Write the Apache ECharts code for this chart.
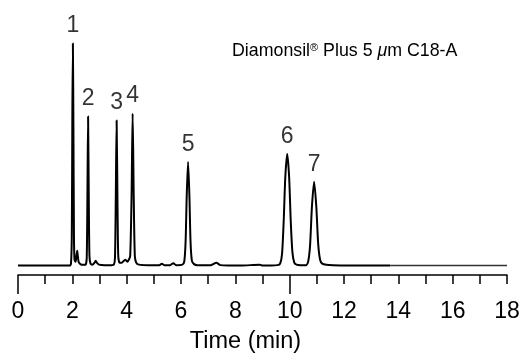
<!DOCTYPE html>
<html>
<head>
<meta charset="utf-8">
<script src="https://cdn.jsdelivr.net/npm/echarts@6/dist/echarts.min.js"></script>
<style>html,body{margin:0;padding:0;background:#fff}#c{width:523px;height:359px}</style>
</head>
<body>
<div id="c"></div>
<script>
// ---- data ----
const traceTime = [0, 1.90, 1.95, 1.98, 2.00, 2.02, 2.04, 2.06, 2.08, 2.12, 2.15, 2.18, 2.20, 2.23, 2.28, 2.35, 2.45,
  2.49, 2.53, 2.555, 2.58, 2.605, 2.63, 2.67, 2.75, 2.82, 2.86, 2.90, 2.98, 3.2, 3.45,
  3.53, 3.57, 3.60, 3.63, 3.66, 3.69, 3.74, 3.82, 3.90, 3.96, 4.02, 4.08,
  4.13, 4.18, 4.22, 4.26, 4.30, 4.35, 4.45, 4.8, 5.2, 5.3, 5.38, 5.6, 5.72, 5.82, 6.05,
  6.12, 6.17, 6.21, 6.26, 6.31, 6.35, 6.40, 6.48, 6.6, 7.1, 7.3, 7.45, 8.2, 8.9, 9.0,
  9.55, 9.65, 9.72, 9.78, 9.84, 9.91, 9.98, 10.04, 10.10, 10.17, 10.25, 10.4,
  10.6, 10.68, 10.75, 10.82, 10.9, 10.98, 11.05, 11.12, 11.2, 11.35, 11.6, 12.5, 13.7];
const traceSignal = [0, 0, 2, 30, 150, 225, 140, 30, 6, 4, 10, 15, 10, 4, 2, 1, 1,
  1, 8, 70, 151, 70, 10, 2, 1, 3, 5, 3, 1, 0.5, 0.5,
  1, 8, 70, 147, 70, 10, 3, 3, 5, 6, 4, 6,
  10, 70, 154, 70, 10, 3, 1, 0.5, 0.5, 2, 0.5, 0.5, 2.5, 0.5, 1,
  4, 25, 70, 105, 70, 25, 5, 1.5, 0.5, 0.5, 3, 0.5, 0, 1, 0,
  0.5, 2, 12, 45, 90, 113, 90, 45, 14, 3, 1, 0.5,
  0.5, 4, 20, 60, 85, 60, 22, 6, 2, 0.8, 0.4, 0, 0];
const tailTime = [13.7, 18];
const tailSignal = [0, 0];
const peakNames = ['1', '2', '3', '4', '5', '6', '7'];
const peakTimes = [2.02, 2.58, 3.63, 4.22, 6.26, 9.91, 10.9];
const peakHeights = [225, 151, 147, 154, 105, 113, 85];
const xTicks = [0, 2, 4, 6, 8, 10, 12, 14, 16, 18];
const longTicks = [0, 10];
const xName = 'Time (min)';

const chart = echarts.init(document.getElementById('c'), null, {renderer: 'canvas'});
const FONT = 'Liberation Sans, Arial, Helvetica, sans-serif';

const option = {
  animation: false,
  backgroundColor: '#fff',
  grid: {left: 18, right: 16, top: 38.5, bottom: 81, containLabel: false},
  xAxis: [{
    type: 'value', min: 0, max: 18, interval: 1, position: 'bottom',
    axisLine: {show: true, onZero: false, lineStyle: {color: '#000', width: 1.5}},
    axisTick: {show: true, inside: false, length: 9, lineStyle: {color: '#000', width: 1.5}},
    axisLabel: {
      show: true, margin: 25, color: '#000', fontSize: 23, fontFamily: FONT,
      formatter: v => (xTicks.indexOf(v) >= 0 ? String(v) : '')
    },
    splitLine: {show: false},
    name: xName, nameLocation: 'middle', nameGap: 55,
    nameTextStyle: {color: '#000', fontSize: 23.5, fontFamily: FONT, padding: [0, 34, 0, 0]}
  }, {
    type: 'value', min: 0, max: 18, position: 'top', offset: -239.5,
    axisLine: {show: false, onZero: false},
    axisTick: {show: true, inside: true, length: 16, customValues: longTicks, lineStyle: {color: '#000', width: 1.5}},
    axisLabel: {show: false},
    splitLine: {show: false}
  }],
  yAxis: {
    type: 'value', min: -9.5, max: 230, show: false,
    splitLine: {show: false}
  },
  series: [{
    type: 'line', xAxisIndex: 0,
    data: traceTime.map((t, i) => [t, traceSignal[i]]),
    showSymbol: false, smooth: 0.25,
    lineStyle: {color: '#000', width: 2, join: 'round'}
  }, {
    type: 'line', xAxisIndex: 0,
    data: tailTime.map((t, i) => [t, tailSignal[i]]),
    showSymbol: false,
    lineStyle: {color: '#333', width: 1.5}
  }, {
    type: 'scatter', xAxisIndex: 0,
    data: peakTimes.map((t, i) => [t, peakHeights[i], peakNames[i]]),
    symbolSize: 0,
    label: {
      show: true, position: 'top', distance: 6,
      formatter: p => p.data[2],
      color: '#000', fontSize: 23, fontFamily: FONT
    }
  }],
  graphic: [{
    type: 'text', left: 232, top: 42,
    style: {
      text: '{a|Diamonsil}{s|®}{a| Plus 5 }{i|μ}{a|m C18-A}',
      rich: {
        a: {fontSize: 17.8, fontFamily: FONT, color: '#111'},
        s: {fontSize: 11, fontFamily: FONT, color: '#111', verticalAlign: 'top', padding: [0, 0, 8, 0]},
        i: {fontSize: 17.8, fontFamily: FONT, fontStyle: 'italic', color: '#111'}
      }
    }
  }]
};
chart.setOption(option);
</script>
</body>
</html>
